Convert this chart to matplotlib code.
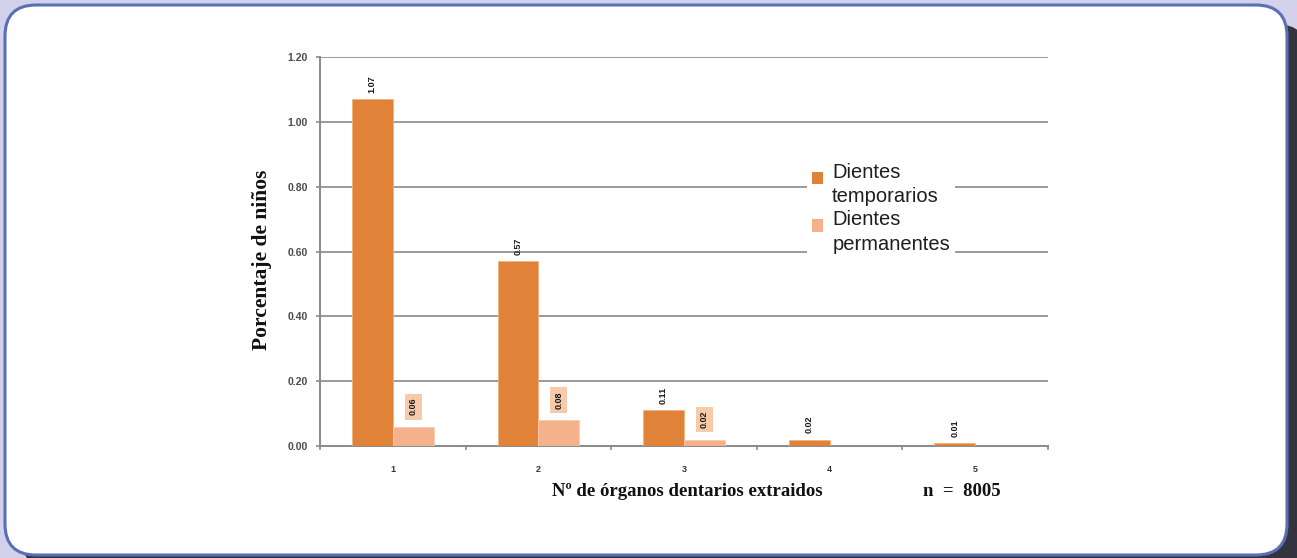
import numpy as np
import matplotlib
matplotlib.use("Agg")
import matplotlib.pyplot as plt
from matplotlib.patches import FancyBboxPatch, Patch

# Data
categories = ["1", "2", "3", "4", "5"]
temporarios = [1.07, 0.57, 0.11, 0.02, 0.01]
permanentes = [0.06, 0.08, 0.02, 0.0, 0.0]
temp_labels = ["1.07", "0.57", "0.11", "0.02", "0.01"]
perm_labels = ["0.06", "0.08", "0.02", "", ""]
y_ticks = [0.0, 0.2, 0.4, 0.6, 0.8, 1.0, 1.2]

W, H = 1297, 558
fig = plt.figure(figsize=(W / 100, H / 100), dpi=100)
fig.patch.set_facecolor("#d2d2ea")

# Card shadow and rounded white card
shadow = FancyBboxPatch((20 / W, -10 / H), (W - 8) / W, (H - 14) / H,
                        boxstyle="round,pad=0,rounding_size=0.026",
                        transform=fig.transFigure, facecolor="#34343e",
                        edgecolor="none", mutation_aspect=W / H, zorder=-3)
fig.patches.append(shadow)
card = FancyBboxPatch((5 / W, 3 / H), 1282 / W, 550 / H,
                      boxstyle="round,pad=0,rounding_size=0.024",
                      transform=fig.transFigure, facecolor="white",
                      edgecolor="#5b6fb6", linewidth=2.2,
                      mutation_aspect=W / H, zorder=-2)
fig.patches.append(card)

# Plot area
ax_left, ax_right = 320 / W, 1048 / W
ax_bottom, ax_top = (H - 446) / H, (H - 57) / H
ax = fig.add_axes([ax_left, ax_bottom, ax_right - ax_left, ax_top - ax_bottom])
ax.set_facecolor("none")

x = np.arange(len(categories))
bw = 0.28
c_temp = "#e08338"
c_perm = "#f4b18b"

ax.bar(x - bw / 2, temporarios, bw, color=c_temp, edgecolor="#f3b27a",
       linewidth=0.6, zorder=3)
ax.bar(x + bw / 2, permanentes, bw, color=c_perm, edgecolor="#f8cdb0",
       linewidth=0.6, zorder=3)

ax.set_xlim(-0.5, len(categories) - 0.5)
ax.set_ylim(0, 1.2)
ax.set_yticks(y_ticks)
ax.set_yticklabels([f"{v:.2f}" for v in y_ticks])
ax.set_xticks(x)
ax.set_xticklabels(categories)
ax.set_xticks(np.arange(len(categories) + 1) - 0.5, minor=True)

ax.grid(axis="y", color="#9a9a9a", linewidth=1.4, zorder=0)
for s in ["top", "right"]:
    ax.spines[s].set_visible(False)
for s in ["left", "bottom"]:
    ax.spines[s].set_color("#8a8a8a")
    ax.spines[s].set_linewidth(1.4)

ax.tick_params(axis="y", length=3, width=1.2, color="#8a8a8a", pad=6,
               labelsize=7.5, labelcolor="#4a4a4a")
ax.tick_params(axis="x", which="major", length=0, pad=14,
               labelsize=6.5, labelcolor="#333333")
ax.tick_params(axis="x", which="minor", length=3, width=1.2, color="#8a8a8a")
for lab in ax.get_yticklabels() + ax.get_xticklabels():
    lab.set_fontweight("bold")
    lab.set_family("Liberation Sans")

# Value labels above bars
for xi, v, t in zip(x, temporarios, temp_labels):
    ax.annotate(t, (xi - bw / 2, v), xytext=(0, 4.5), textcoords="offset points",
                rotation=90, ha="center", va="bottom", fontsize=6.5,
                fontweight="bold", family="Liberation Sans", color="#1a1a1a",
                zorder=5)
for xi, v, t in zip(x, permanentes, perm_labels):
    if not t:
        continue
    ax.annotate(t, (xi + bw / 2, v), xytext=(0, 8), textcoords="offset points",
                rotation=90, ha="center", va="bottom", fontsize=6.5,
                fontweight="bold", family="Liberation Sans", color="#1a1a1a",
                bbox=dict(boxstyle="square,pad=0.45", facecolor="#f7cba9",
                          edgecolor="none"), zorder=5)

# Axis titles
fig.text(262 / W, 1 - 260 / H, "Porcentaje de niños", rotation=90,
         ha="center", va="center", fontsize=15.5, fontweight="bold",
         family="Liberation Serif", color="#111111")
fig.text(687 / W, 1 - 492 / H, "Nº de órganos dentarios extraidos",
         ha="center", va="center", fontsize=13.5, fontweight="bold",
         family="Liberation Serif", color="#111111")
fig.text(962 / W, 1 - 492 / H, "n  =  8005",
         ha="center", va="center", fontsize=13.5, fontweight="bold",
         family="Liberation Serif", color="#111111")

# Legend
handles = [Patch(facecolor=c_temp, edgecolor="none"),
           Patch(facecolor=c_perm, edgecolor="none")]
leg = ax.legend(handles, ["Dientes\ntemporarios", "Dientes\npermanentes"],
                loc="upper left", bbox_to_anchor=(797 / W, 1 - 148 / H),
                bbox_transform=fig.transFigure, frameon=True, fancybox=False,
                handlelength=0.55, handleheight=0.55, handletextpad=0.45,
                labelspacing=0.2, borderpad=0.25,
                prop={"family": "Liberation Sans", "size": 14.5})
leg.get_frame().set_facecolor("white")
leg.get_frame().set_edgecolor("none")
leg.get_frame().set_alpha(1)
for t in leg.get_texts():
    t.set_color("#1e1e1e")
    t.set_linespacing(1.35)
for h in leg.legend_handles:
    h.set_y(h.get_y() + 5)

fig.savefig("out.png", dpi=100, facecolor=fig.get_facecolor())
